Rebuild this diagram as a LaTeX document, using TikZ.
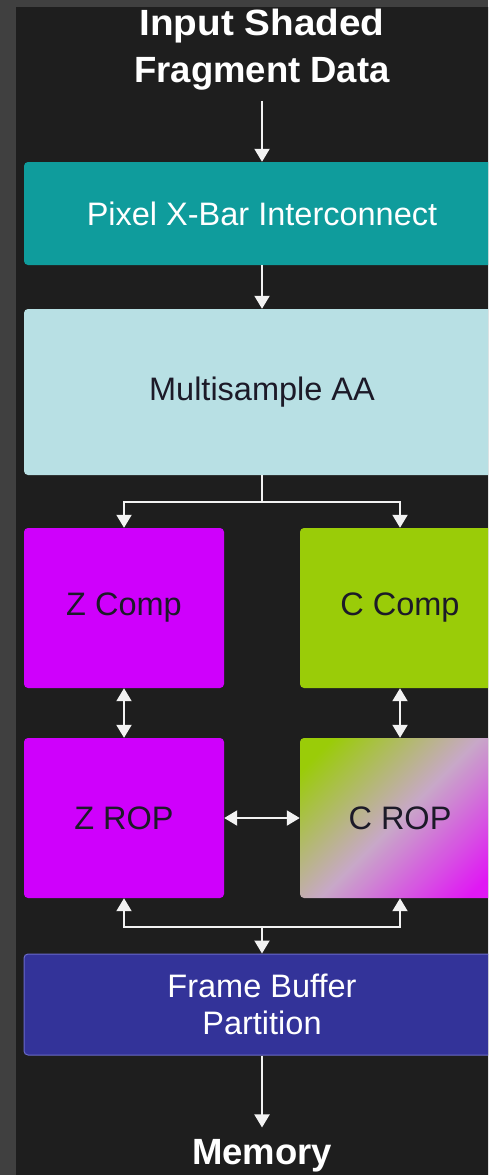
\documentclass[tikz,border=0pt]{standalone}
\usepackage{fontspec}
\setmainfont{Liberation Sans}
\usetikzlibrary{arrows.meta}

\definecolor{frame}{HTML}{404040}
\definecolor{panel}{HTML}{1E1E1E}
\definecolor{xbarfill}{HTML}{0F9C9C}
\definecolor{msaafill}{HTML}{B8E0E4}
\definecolor{zfill}{HTML}{CF00FC}
\definecolor{cfill}{HTML}{9ACC08}
\definecolor{cropmid}{HTML}{C8A8C8}
\definecolor{cropend}{HTML}{E018F4}
\definecolor{fbfill}{HTML}{333399}
\definecolor{fbedge}{HTML}{6A6AC8}
\definecolor{wire}{HTML}{F2F2F2}
\definecolor{darktext}{HTML}{1C1A28}

% green-to-magenta blend for the colour ROP stage
\pgfdeclareverticalshading{ropblend}{100bp}{%
  color(0bp)=(cropend); color(21bp)=(cropend); color(50bp)=(cropmid);
  color(79bp)=(cfill); color(100bp)=(cfill)}

\tikzset{
  block/.style={rectangle, rounded corners=4pt, inner sep=0pt, align=center,
    font=\fontsize{32.5}{37}\selectfont},
  heading/.style={inner sep=0pt, align=center, text=white,
    font=\bfseries\fontsize{36.5}{47}\selectfont},
  wirestyle/.style={draw=wire, line width=2pt, -{Triangle[width=15pt,length=13pt]}},
  twoway/.style={draw=wire, line width=2pt,
    {Triangle[width=15pt,length=13pt]}-{Triangle[width=15pt,length=13pt]}},
}

\begin{document}
\begin{tikzpicture}[x=1pt, y=-1pt]
  % page and panel
  \useasboundingbox (0,0) rectangle (488,1175);
  \clip (0,0) rectangle (488,1175);
  \fill[frame] (0,0) rectangle (488,1175);
  \fill[panel] (16,7) rectangle (500,1175);

  % labels at the ends of the pipeline
  \node[heading] (input) at (262,50) {\scalebox{1.06}[1]{Input Shaded}\\Fragment Data};
  \node[heading] (memory) at (262,1156) {Memory};

  % pipeline stages
  \node[block, fill=xbarfill, text=white, minimum width=476pt, minimum height=103pt]
    (xbar) at (262,213.5) {Pixel X-Bar Interconnect};
  \node[block, fill=msaafill, text=darktext, minimum width=476pt, minimum height=166pt]
    (msaa) at (262,392) {Multisample AA};
  \node[block, fill=zfill, text=darktext, minimum width=200pt, minimum height=160pt]
    (zcomp) at (124,608) {Z Comp};
  \node[block, fill=cfill, text=darktext, minimum width=200pt, minimum height=160pt]
    (ccomp) at (400,608) {C Comp};
  \node[block, fill=zfill, text=darktext, minimum width=200pt, minimum height=160pt]
    (zrop) at (124,818) {Z ROP};
  \node[block, shade, shading=ropblend, shading angle=45, text=darktext,
    minimum width=200pt, minimum height=160pt]
    (crop) at (400,818) {C ROP};
  \node[block, fill=fbfill, draw=fbedge, line width=1pt, text=white,
    minimum width=476pt, minimum height=101pt]
    (fb) at (262,1004.5) {Frame Buffer\\Partition};

  % connectors
  \draw[wirestyle] ([yshift=-10pt]input.south) -- (xbar.north);
  \draw[wirestyle] (xbar.south) -- (msaa.north);
  \coordinate (split) at (262,502);
  \draw[draw=wire, line width=2pt] (msaa.south) -- (split);
  \draw[wirestyle] (split) -| (zcomp.north);
  \draw[wirestyle] (split) -| (ccomp.north);
  \draw[twoway] (zcomp.south) -- (zrop.north);
  \draw[twoway] (ccomp.south) -- (crop.north);
  \draw[twoway] (zrop.east) -- (crop.west);
  \coordinate (merge) at (262,927);
  \draw[twoway] (zrop.south) |- (merge) -| (crop.south);
  \draw[wirestyle] (merge) -- (fb.north);
  \draw[wirestyle] (fb.south) -- ([yshift=12pt]memory.north);
\end{tikzpicture}
\end{document}
